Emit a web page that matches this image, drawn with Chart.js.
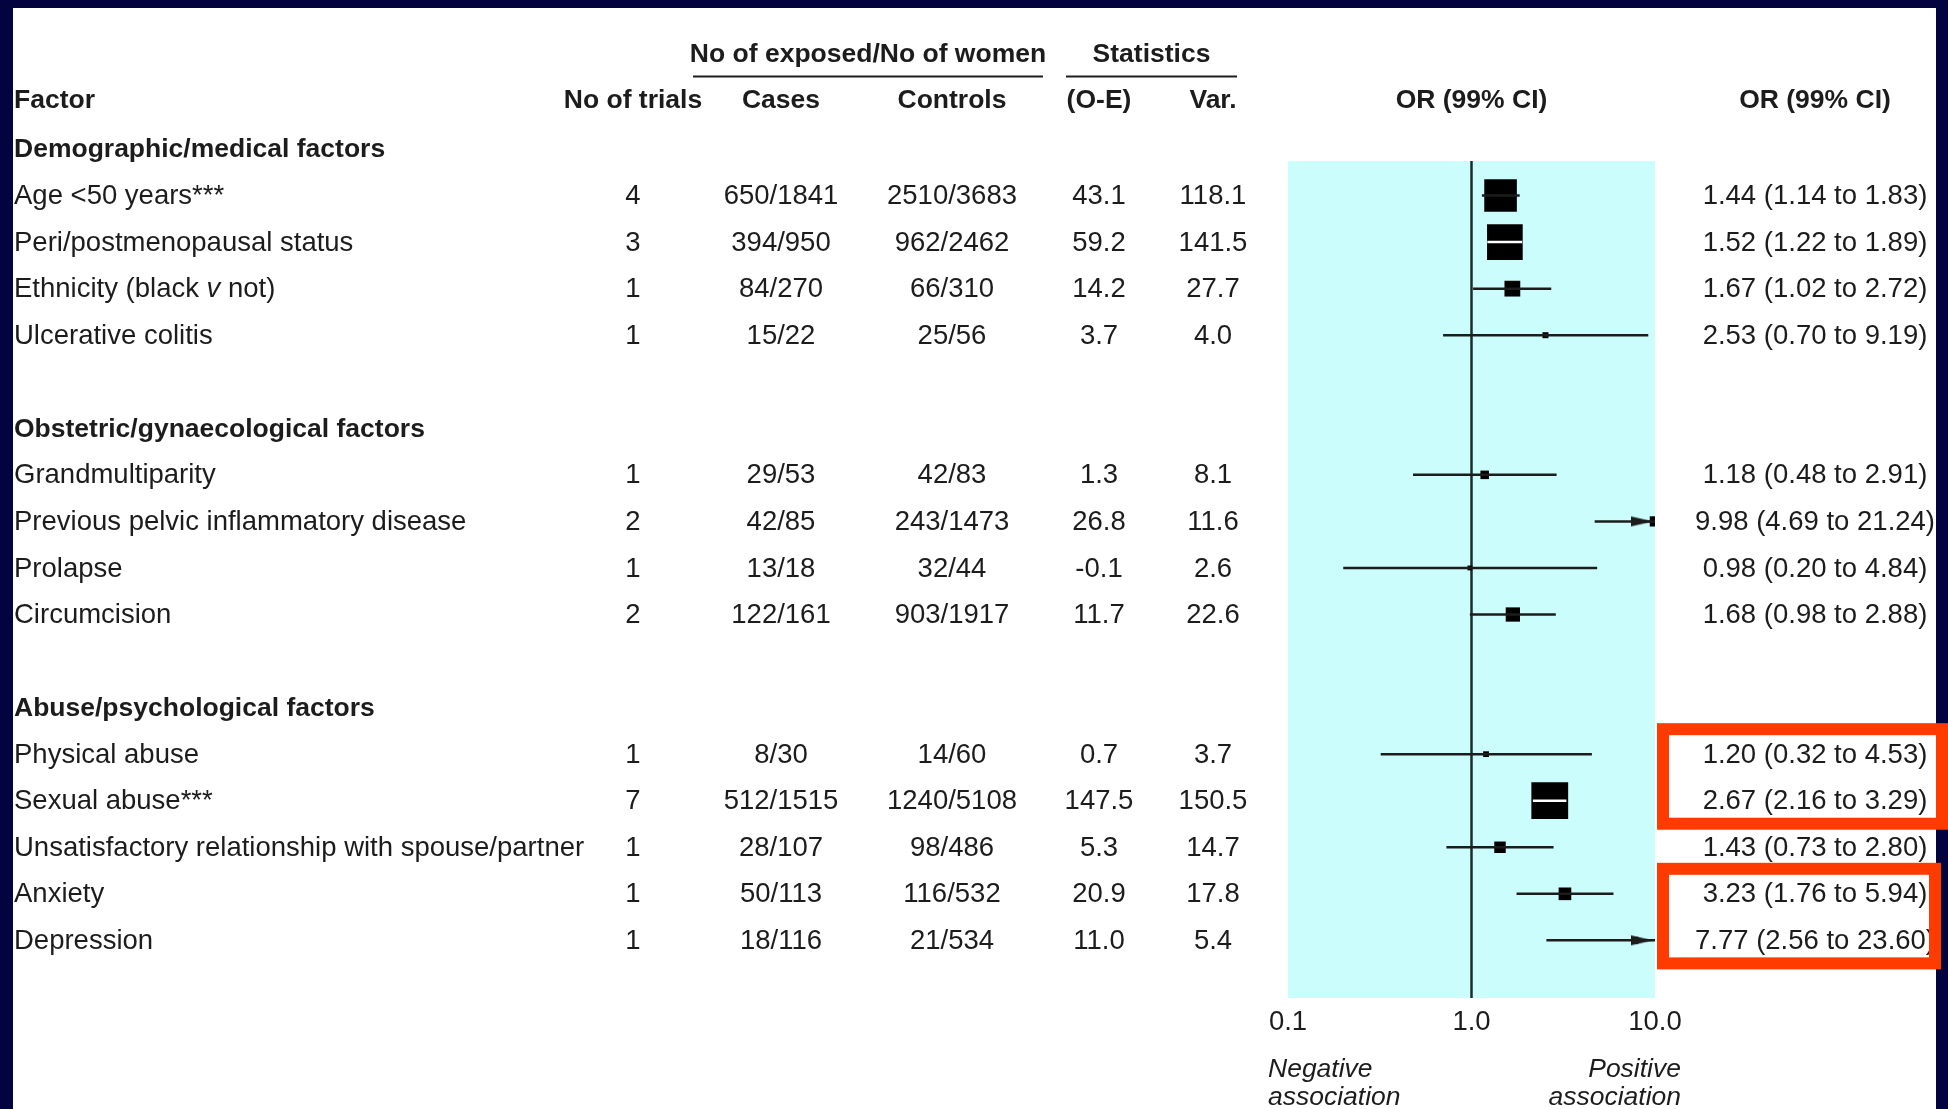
<!DOCTYPE html>
<html>
<head>
<meta charset="utf-8">
<script src="https://cdn.jsdelivr.net/npm/chart.js"></script>
<style>
  html, body { margin: 0; padding: 0; background: #03033f; }
  canvas { display: block; }
</style>
</head>
<body>
<canvas id="forest" width="1948" height="1109"></canvas>
<script>
const groupTitles = ['Demographic/medical factors', 'Obstetric/gynaecological factors', 'Abuse/psychological factors'];
const factors = [
  'Age <50 years***', 'Peri/postmenopausal status', 'Ethnicity (black v not)', 'Ulcerative colitis',
  'Grandmultiparity', 'Previous pelvic inflammatory disease', 'Prolapse', 'Circumcision',
  'Physical abuse', 'Sexual abuse***', 'Unsatisfactory relationship with spouse/partner', 'Anxiety', 'Depression'
];
const factorGroup = [0, 0, 0, 0, 1, 1, 1, 1, 2, 2, 2, 2, 2];
const trials = [4, 3, 1, 1, 1, 2, 1, 2, 1, 7, 1, 1, 1];
const cases = ['650/1841', '394/950', '84/270', '15/22', '29/53', '42/85', '13/18', '122/161', '8/30', '512/1515', '28/107', '50/113', '18/116'];
const controls = ['2510/3683', '962/2462', '66/310', '25/56', '42/83', '243/1473', '32/44', '903/1917', '14/60', '1240/5108', '98/486', '116/532', '21/534'];
const oMinusE = [43.1, 59.2, 14.2, 3.7, 1.3, 26.8, -0.1, 11.7, 0.7, 147.5, 5.3, 20.9, 11.0];
const variance = [118.1, 141.5, 27.7, 4.0, 8.1, 11.6, 2.6, 22.6, 3.7, 150.5, 14.7, 17.8, 5.4];
const orValue = [1.44, 1.52, 1.67, 2.53, 1.18, 9.98, 0.98, 1.68, 1.20, 2.67, 1.43, 3.23, 7.77];
const ciLow = [1.14, 1.22, 1.02, 0.70, 0.48, 4.69, 0.20, 0.98, 0.32, 2.16, 0.73, 1.76, 2.56];
const ciHigh = [1.83, 1.89, 2.72, 9.19, 2.91, 21.24, 4.84, 2.88, 4.53, 3.29, 2.80, 5.94, 23.60];
const xTicks = [0.1, 1, 10];
const highlighted = [[8, 9], [11, 12]];

const ink = '#1c1c1c';
const navy = '#03033f';
const cyan = '#ccfdfd';
const red = '#ff3b00';
const FAM = '"Liberation Sans", Arial, sans-serif';
const xMin = 0.1, xMax = 10;

// row number of every factor: title row, factors, blank row
const rowOf = [];
const titleRow = [];
let r = 0;
groupTitles.forEach((t, g) => {
  titleRow.push(r++);
  factors.forEach((f, k) => { if (factorGroup[k] === g) rowOf[k] = r++; });
  r++;
});

const boxSide = k => 3 * Math.sqrt(variance[k]);

// CI segments, broken by null points
const ciPoints = [];
factors.forEach((f, k) => {
  ciPoints.push({ x: Math.max(ciLow[k], xMin), y: rowOf[k], k });
  ciPoints.push({ x: Math.min(ciHigh[k], xMax), y: rowOf[k], k });
  ciPoints.push({ x: 1, y: null, k });
});

// CI drawn white where it lies inside its box
function ciColour(s) {
  const a = ciPoints[s.p0DataIndex], b = ciPoints[s.p1DataIndex];
  if (!a || !b || a.k !== b.k) return undefined;
  const k = a.k;
  const t = (Math.log10(orValue[k]) - Math.log10(a.x)) / (Math.log10(b.x) - Math.log10(a.x));
  const cx = s.p0.x + t * (s.p1.x - s.p0.x);
  const half = boxSide(k) / 2 + 0.6;
  return (s.p0.x >= cx - half && s.p1.x <= cx + half) ? '#ffffff' : undefined;
}

// arrow head for intervals running past 10
const arrowImg = document.createElement('canvas');
arrowImg.width = 52; arrowImg.height = 12;
const ac = arrowImg.getContext('2d');
ac.fillStyle = ink;
ac.beginPath(); ac.moveTo(24, 6); ac.lineTo(2, 1); ac.lineTo(2, 11); ac.closePath(); ac.fill();

const cols = { trials: 633, cases: 781, controls: 952, oe: 1099, vr: 1213, ortext: 1815 };

function drawLabel(ctx, text, x, y) {
  const i = text.indexOf(' v ');
  if (i < 0) { ctx.fillText(text, x, y); return; }
  const a = text.slice(0, i + 1), b = text.slice(i + 2);
  ctx.fillText(a, x, y);
  let w = ctx.measureText(a).width;
  ctx.font = 'italic 27.5px ' + FAM;
  ctx.fillText('v', x + w, y);
  w += ctx.measureText('v').width;
  ctx.font = '27.5px ' + FAM;
  ctx.fillText(b, x + w, y);
}

const tablePlugin = {
  id: 'table',
  beforeDraw(chart) {
    const { ctx, chartArea: a } = chart;
    ctx.save();
    ctx.fillStyle = navy;
    ctx.fillRect(0, 0, chart.width, chart.height);
    ctx.fillStyle = '#ffffff';
    ctx.fillRect(13, 8, 1923, chart.height - 8);
    ctx.fillStyle = cyan;
    ctx.fillRect(a.left, a.top, a.right - a.left, a.bottom - a.top);
    ctx.restore();
  },
  beforeDatasetsDraw(chart) {
    const { ctx, chartArea: a } = chart;
    const x1 = chart.scales.x.getPixelForValue(1);
    ctx.save();
    ctx.strokeStyle = '#1e2b2b';
    ctx.lineWidth = 2.5;
    ctx.beginPath(); ctx.moveTo(x1, a.top); ctx.lineTo(x1, a.bottom); ctx.stroke();
    ctx.restore();
  },
  afterDraw(chart) {
    const { ctx, chartArea: a } = chart;
    const ys = chart.scales.y;
    const row = i => ys.getPixelForValue(i) + 1;
    const x1 = chart.scales.x.getPixelForValue(1);
    ctx.save();
    ctx.fillStyle = ink;
    ctx.strokeStyle = ink;
    ctx.textBaseline = 'middle';

    // column headers
    ctx.font = 'bold 26.5px ' + FAM;
    ctx.textAlign = 'center';
    ctx.fillText('No of exposed/No of women', 868, row(-2.05));
    ctx.fillText('Statistics', 1151.5, row(-2.05));
    ctx.lineWidth = 2;
    ctx.beginPath();
    ctx.moveTo(693, row(-1.58)); ctx.lineTo(1043, row(-1.58));
    ctx.moveTo(1066, row(-1.58)); ctx.lineTo(1237, row(-1.58));
    ctx.stroke();
    const hy = row(-1.05);
    ctx.fillText('No of trials', cols.trials, hy);
    ctx.fillText('Cases', cols.cases, hy);
    ctx.fillText('Controls', cols.controls, hy);
    ctx.fillText('(O-E)', cols.oe, hy);
    ctx.fillText('Var.', cols.vr, hy);
    ctx.fillText('OR (99% CI)', x1, hy);
    ctx.fillText('OR (99% CI)', cols.ortext, hy);
    ctx.textAlign = 'left';
    ctx.fillText('Factor', 14, hy);
    groupTitles.forEach((t, g) => ctx.fillText(t, 14, row(titleRow[g])));

    // body
    factors.forEach((f, k) => {
      const y = row(rowOf[k]);
      ctx.font = '27.5px ' + FAM;
      ctx.textAlign = 'left';
      drawLabel(ctx, f, 14, y);
      ctx.textAlign = 'center';
      ctx.fillText(String(trials[k]), cols.trials, y);
      ctx.fillText(cases[k], cols.cases, y);
      ctx.fillText(controls[k], cols.controls, y);
      ctx.fillText(oMinusE[k].toFixed(1), cols.oe, y);
      ctx.fillText(variance[k].toFixed(1), cols.vr, y);
      ctx.fillText(orValue[k].toFixed(2) + ' (' + ciLow[k].toFixed(2) + ' to ' + ciHigh[k].toFixed(2) + ')', cols.ortext, y);
    });

    // axis captions
    ctx.font = 'italic 26.5px ' + FAM;
    ctx.textAlign = 'left';
    ctx.fillText('Negative', a.left - 20, a.bottom + 72);
    ctx.fillText('association', a.left - 20, a.bottom + 100);
    ctx.textAlign = 'right';
    ctx.fillText('Positive', a.right + 26, a.bottom + 72);
    ctx.fillText('association', a.right + 26, a.bottom + 100);

    // red highlight frames
    ctx.strokeStyle = red;
    ctx.lineWidth = 12;
    const rights = [1942, 1935];
    highlighted.forEach((pair, n) => {
      const top = row(rowOf[pair[0]]) - 32 + 6;
      const bot = row(rowOf[pair[1]]) + 28 - 6;
      const left = a.right + 2 + 6;
      ctx.strokeRect(left, top, rights[n] - left, bot - top);
    });
    ctx.restore();
  }
};

new Chart(document.getElementById('forest'), {
  type: 'scatter',
  data: {
    datasets: [
      {
        label: 'OR',
        data: factors.map((f, k) => ({ x: orValue[k], y: rowOf[k] })),
        pointStyle: 'rect',
        pointRadius: c => boxSide(c.dataIndex) / Math.SQRT2,
        pointBackgroundColor: '#000000',
        pointBorderWidth: 0,
        clip: 0,
        order: 2
      },
      {
        label: '99% CI',
        data: ciPoints,
        showLine: true,
        spanGaps: false,
        borderColor: ink,
        borderWidth: 2.5,
        pointRadius: 0,
        segment: { borderColor: ciColour },
        clip: 2,
        order: 1
      },
      {
        label: 'beyond 10',
        data: factors.map((f, k) => ciHigh[k] > xMax ? { x: xMax, y: rowOf[k] } : null).filter(Boolean),
        pointStyle: arrowImg,
        pointRadius: 10,
        clip: 0,
        order: 0
      }
    ]
  },
  options: {
    responsive: false,
    animation: false,
    events: [],
    layout: { padding: { left: 1288, right: 293, top: 161, bottom: 0 } },
    plugins: { legend: { display: false }, tooltip: { enabled: false } },
    scales: {
      x: {
        type: 'logarithmic',
        min: xMin,
        max: xMax,
        grid: { display: false, drawTicks: false },
        border: { display: false },
        afterBuildTicks: s => { s.ticks = xTicks.map(v => ({ value: v })); },
        afterFit: s => { s.height = 111; },
        ticks: {
          autoSkip: false,
          maxRotation: 0,
          padding: 8,
          color: ink,
          font: { family: FAM, size: 27.5 },
          callback: v => Number(v).toFixed(1)
        }
      },
      y: {
        type: 'linear',
        display: false,
        reverse: true,
        min: 0.258,
        max: 18.238
      }
    }
  },
  plugins: [tablePlugin]
});
</script>
</body>
</html>
